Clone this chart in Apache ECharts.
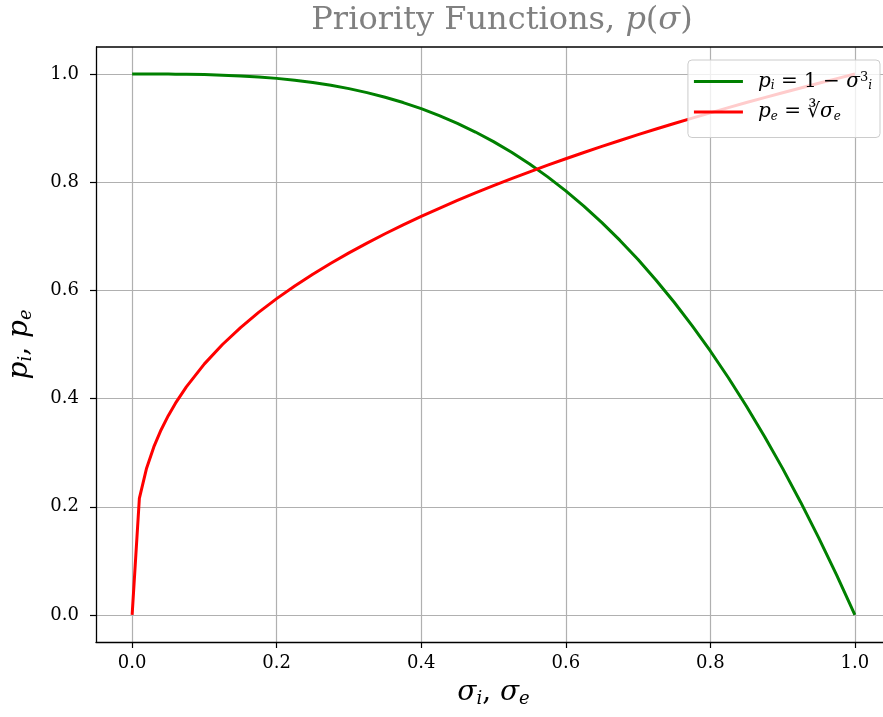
<!DOCTYPE html>
<html>
<head>
<meta charset="utf-8">
<script src="https://cdn.jsdelivr.net/npm/echarts@6/dist/echarts.min.js"></script>
<style>
  html, body { margin: 0; padding: 0; background: #fff; }
  #chart { width: 883px; height: 717px; }
</style>
</head>
<body>
<div id="chart"></div>
<script>
// sample points along sigma
const sigma = [0, 0.01, 0.02, 0.03, 0.04, 0.05, 0.06, 0.075, 0.1, 0.125, 0.15, 0.175, 0.2, 0.225,
  0.25, 0.275, 0.3, 0.325, 0.35, 0.375, 0.4, 0.425, 0.45, 0.475, 0.5, 0.525, 0.55, 0.575, 0.6,
  0.625, 0.65, 0.675, 0.7, 0.725, 0.75, 0.775, 0.8, 0.825, 0.85, 0.875, 0.9, 0.925, 0.95, 0.975, 1.0];
// p_i = 1 - sigma^3 (green)
const pInternal = [1, 1, 1, 1, 0.9999, 0.9999, 0.9998, 0.9996, 0.999, 0.998, 0.9966, 0.9946, 0.992, 0.9886,
  0.9844, 0.9792, 0.973, 0.9657, 0.9571, 0.9473, 0.936, 0.9232, 0.9089, 0.8928, 0.875, 0.8553, 0.8336, 0.8099, 0.784,
  0.7559, 0.7254, 0.6924, 0.657, 0.6189, 0.5781, 0.5345, 0.488, 0.4385, 0.3859, 0.3301, 0.271, 0.2085, 0.1426, 0.0731, 0];
// p_e = cbrt(sigma) (red)
const pExternal = [0, 0.2154, 0.2714, 0.3107, 0.342, 0.3684, 0.3915, 0.4217, 0.4642, 0.5, 0.5313, 0.5593, 0.5848, 0.6082,
  0.63, 0.6503, 0.6694, 0.6875, 0.7047, 0.7211, 0.7368, 0.7518, 0.7663, 0.7802, 0.7937, 0.8067, 0.8193, 0.8316, 0.8434,
  0.855, 0.8662, 0.8772, 0.8879, 0.8984, 0.9086, 0.9186, 0.9283, 0.9379, 0.9473, 0.9565, 0.9655, 0.9743, 0.983, 0.9916, 1.0];
const tickValues = [0, 0.2, 0.4, 0.6, 0.8, 1.0];

const serif = '"DejaVu Serif", "Liberation Serif", serif';
const chart = echarts.init(document.getElementById('chart'));

const it = (size, color) => ({ fontFamily: serif, fontStyle: 'italic', fontSize: size, color: color || '#000' });
const sub = (size, pad) => ({ fontFamily: serif, fontStyle: 'italic', fontSize: size, color: '#000', verticalAlign: 'bottom', padding: [pad, 0, 0, 0] });

const option = {
  animation: false,
  title: {
    text: 'Priority Functions, {it|p}({it|σ})',
    left: 497,
    textAlign: 'center',
    top: 0,
    textStyle: {
      fontFamily: serif, fontSize: 32, fontWeight: 'normal', color: '#808080',
      rich: { it: it(32, '#808080') }
    }
  },
  grid: { left: 96, top: 47, right: -8, bottom: 75, outerBoundsMode: 'none' },
  legend: {
    right: 3, top: 60,
    orient: 'vertical',
    backgroundColor: 'rgba(255,255,255,0.8)',
    borderColor: '#cccccc', borderWidth: 1, borderRadius: 4,
    padding: [11, 8, 15, 6],
    itemGap: 10,
    itemWidth: 49, itemHeight: 3,
    icon: 'rect',
    textStyle: {
      fontFamily: serif, fontSize: 20, color: '#000',
      rich: {
        gap: { width: 10 },
        it: it(20),
        sub: sub(12, 9),
        sup: { fontFamily: serif, fontSize: 13, color: '#000', verticalAlign: 'top' }
      }
    },
    formatter: function (name) {
      if (name === 'pi') return '{gap|}{it|p}{sub|i} = 1 − {it|σ}{sup|3}{sub|i}';
      return '{gap|}{it|p}{sub|e} = ∛{it|σ}{sub|e}';
    },
    data: ['pi', 'pe']
  },
  xAxis: {
    type: 'value', min: -0.05, max: 1.05,
    name: '{it|σ}{sub|i}, {it|σ}{sub|e}',
    nameLocation: 'middle', nameGap: 36,
    nameTextStyle: {
      fontFamily: serif, fontSize: 28, color: '#000',
      rich: { it: it(28), sub: sub(18, 12) }
    },
    axisLine: { onZero: false, lineStyle: { color: '#000', width: 1.3 } },
    axisTick: { customValues: tickValues, length: 6, lineStyle: { color: '#000', width: 1.2 } },
    axisLabel: {
      customValues: tickValues, margin: 12,
      fontFamily: serif, fontSize: 18, color: '#000',
      formatter: v => v.toFixed(1)
    },
    splitLine: { show: true, lineStyle: { color: '#b0b0b0', width: 1.2 } }
  },
  yAxis: {
    type: 'value', min: -0.05, max: 1.05,
    name: '{it|p}{sub|i}, {it|p}{sub|e}',
    nameLocation: 'middle', nameGap: 61, nameRotate: 90,
    nameTextStyle: {
      fontFamily: serif, fontSize: 28, color: '#000',
      rich: { it: it(28), sub: sub(18, 12) }
    },
    axisLine: { show: true, onZero: false, lineStyle: { color: '#000', width: 1.3 } },
    axisTick: { show: true, customValues: tickValues, length: 6, lineStyle: { color: '#000', width: 1.2 } },
    axisLabel: {
      customValues: tickValues, margin: 17,
      fontFamily: serif, fontSize: 18, color: '#000',
      formatter: v => v.toFixed(1)
    },
    splitLine: { show: true, lineStyle: { color: '#b0b0b0', width: 1.2 } }
  },
  series: [
    {
      name: 'pi', type: 'line', showSymbol: false, symbol: 'none',
      data: sigma.map((s, i) => [s, pInternal[i]]),
      lineStyle: { color: '#008000', width: 3 }, itemStyle: { color: '#008000' }
    },
    {
      name: 'pe', type: 'line', showSymbol: false, symbol: 'none',
      data: sigma.map((s, i) => [s, pExternal[i]]),
      lineStyle: { color: '#ff0000', width: 3 }, itemStyle: { color: '#ff0000' }
    }
  ],
  graphic: [
    // top spine of the matplotlib box
    { type: 'line', shape: { x1: 96, y1: 47, x2: 883, y2: 47 }, style: { stroke: '#000', lineWidth: 1.3 }, z: 10 }
  ]
};
chart.setOption(option);
</script>
</body>
</html>
